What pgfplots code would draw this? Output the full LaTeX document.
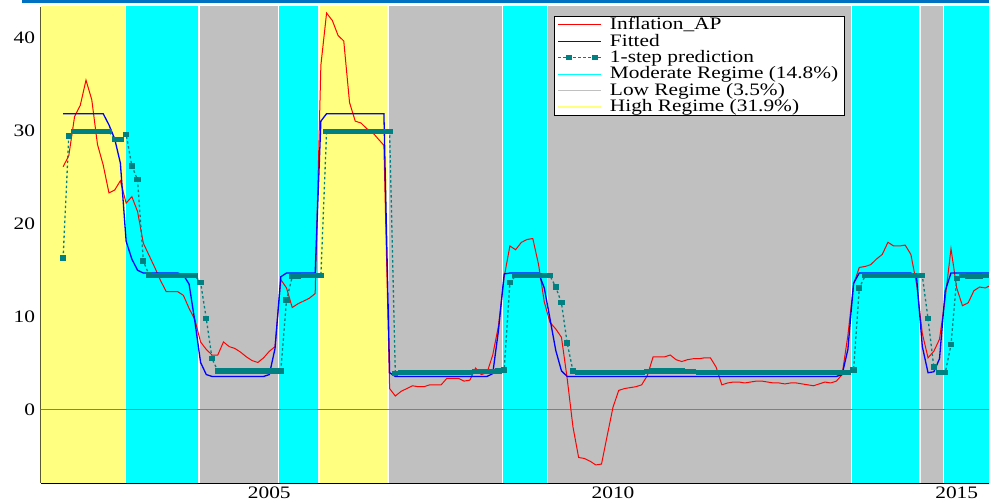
\documentclass[border=0pt]{standalone}
\usepackage{fontspec}
\setmainfont{Liberation Serif}[FakeStretch=1.22]
\usepackage{pgfplots}
\pgfplotsset{compat=1.18}
\usepackage{pgfplotstable}

\definecolor{cBand}{RGB}{0,255,255}
\definecolor{gBand}{RGB}{192,192,192}
\definecolor{yBand}{RGB}{255,255,128}
\definecolor{tealc}{RGB}{0,128,128}
\definecolor{zeroc}{RGB}{128,128,128}
\definecolor{barblue}{RGB}{0,112,192}

\pgfplotstableread{
t infl fit pred
2002.000 26.1 31.8 16.3
2002.083 27.3 31.8 29.4
2002.167 31.5 31.8 29.9
2002.250 32.7 31.8 29.9
2002.333 35.4 31.8 29.9
2002.417 33.3 31.8 29.9
2002.500 28.5 31.8 29.9
2002.583 26.3 31.8 29.9
2002.667 23.3 30.6 29.9
2002.750 23.6 29.1 29.0
2002.833 24.6 26.5 29.0
2002.917 22.2 18.1 29.6
2003.000 22.9 16.2 26.2
2003.083 21.3 15.0 24.7
2003.167 17.9 14.7 16.0
2003.250 16.6 14.7 14.5
2003.333 15.3 14.7 14.4
2003.417 13.9 14.7 14.4
2003.500 12.7 14.7 14.4
2003.583 12.7 14.7 14.4
2003.667 12.7 14.7 14.4
2003.750 12.3 14.5 14.4
2003.833 10.9 13.5 14.4
2003.917 9.7 9.5 14.4
2004.000 7.3 5.1 13.7
2004.083 6.5 3.8 9.8
2004.167 5.9 3.6 5.5
2004.250 5.9 3.6 4.2
2004.333 7.3 3.6 4.2
2004.417 6.8 3.6 4.2
2004.500 6.6 3.6 4.2
2004.583 6.2 3.6 4.2
2004.667 5.7 3.6 4.2
2004.750 5.3 3.6 4.2
2004.833 5.1 3.6 4.2
2004.917 5.6 3.6 4.2
2005.000 6.3 3.8 4.2
2005.083 6.8 6.6 4.2
2005.167 14.0 14.3 4.2
2005.250 13.1 14.7 11.8
2005.333 11.0 14.7 14.3
2005.417 11.4 14.7 14.3
2005.500 11.7 14.7 14.4
2005.583 12.0 14.7 14.4
2005.667 12.5 14.7 14.4
2005.750 37.0 31.0 14.4
2005.833 42.6 31.8 29.9
2005.917 41.8 31.8 29.9
2006.000 40.2 31.8 29.9
2006.083 39.6 31.8 29.9
2006.167 33.0 31.8 29.9
2006.250 31.0 31.8 29.9
2006.333 30.8 31.8 29.9
2006.417 30.2 31.8 29.9
2006.500 29.8 31.8 29.9
2006.583 29.1 31.8 29.9
2006.667 28.4 31.8 29.9
2006.750 2.3 4.0 29.9
2006.833 1.5 3.6 3.9
2006.917 2.0 3.6 4.0
2007.000 2.3 3.6 4.0
2007.083 2.6 3.6 4.0
2007.167 2.5 3.6 4.0
2007.250 2.5 3.6 4.0
2007.333 2.7 3.6 4.0
2007.417 2.7 3.6 4.0
2007.500 2.7 3.6 4.0
2007.583 3.4 3.6 4.0
2007.667 3.4 3.6 4.0
2007.750 3.4 3.6 4.0
2007.833 3.1 3.6 4.0
2007.917 3.2 3.6 4.0
2008.000 4.5 3.6 4.1
2008.083 3.8 3.6 4.1
2008.167 4.0 3.6 4.1
2008.250 5.9 3.9 4.1
2008.333 9.0 8.5 4.2
2008.417 14.3 14.6 4.3
2008.500 17.6 14.7 13.7
2008.583 17.2 14.7 14.4
2008.667 18.0 14.7 14.4
2008.750 18.3 14.7 14.4
2008.833 18.4 14.7 14.4
2008.917 15.6 14.7 14.4
2009.000 11.6 13.1 14.4
2009.083 9.4 9.8 14.4
2009.167 8.7 6.4 13.2
2009.250 7.8 4.2 11.5
2009.333 3.4 3.6 7.2
2009.417 -1.8 3.6 4.2
2009.500 -5.1 3.6 4.0
2009.583 -5.2 3.6 4.0
2009.667 -5.5 3.6 4.0
2009.750 -5.9 3.6 4.0
2009.833 -5.8 3.6 4.0
2009.917 -2.7 3.6 4.0
2010.000 0.3 3.6 4.0
2010.083 2.1 3.6 4.0
2010.167 2.3 3.6 4.0
2010.250 2.4 3.6 4.0
2010.333 2.5 3.6 4.0
2010.417 2.7 3.6 4.0
2010.500 3.7 3.6 4.1
2010.583 5.7 3.6 4.2
2010.667 5.7 3.6 4.2
2010.750 5.7 3.6 4.2
2010.833 5.9 3.6 4.2
2010.917 5.4 3.6 4.2
2011.000 5.2 3.6 4.2
2011.083 5.4 3.6 4.1
2011.167 5.5 3.6 4.1
2011.250 5.5 3.6 4.0
2011.333 5.6 3.6 4.0
2011.417 5.6 3.6 4.0
2011.500 4.6 3.6 4.0
2011.583 2.7 3.6 4.0
2011.667 2.9 3.6 4.0
2011.750 3.0 3.6 4.0
2011.833 3.0 3.6 4.0
2011.917 2.9 3.6 4.0
2012.000 3.0 3.6 4.0
2012.083 3.1 3.6 4.0
2012.167 3.1 3.6 4.0
2012.250 3.0 3.6 4.0
2012.333 2.9 3.6 4.0
2012.417 2.9 3.6 4.0
2012.500 2.8 3.6 4.0
2012.583 2.9 3.6 4.0
2012.667 2.9 3.6 4.0
2012.750 2.8 3.6 4.0
2012.833 2.7 3.6 4.0
2012.917 2.6 3.6 4.0
2013.000 2.8 3.6 4.0
2013.083 3.0 3.6 4.0
2013.167 2.9 3.6 4.0
2013.250 3.1 3.6 4.0
2013.333 3.8 3.8 4.0
2013.417 8.0 6.5 4.0
2013.500 13.5 13.6 4.3
2013.583 15.3 14.7 13.1
2013.667 15.4 14.7 14.4
2013.750 15.6 14.7 14.4
2013.833 16.2 14.7 14.4
2013.917 16.7 14.7 14.4
2014.000 18.0 14.7 14.4
2014.083 17.6 14.7 14.4
2014.167 17.6 14.7 14.4
2014.250 17.7 14.7 14.4
2014.333 16.7 14.7 14.4
2014.417 13.5 14.2 14.4
2014.500 8.2 6.8 14.4
2014.583 5.6 4.0 9.8
2014.667 6.3 4.1 4.6
2014.750 7.6 5.5 4.0
2014.833 12.0 12.8 4.0
2014.917 17.3 14.7 7.0
2015.000 13.1 14.7 14.1
2015.083 11.2 14.7 14.4
2015.167 11.5 14.7 14.3
2015.250 12.8 14.7 14.3
2015.333 13.2 14.7 14.3
2015.417 13.1 14.7 14.4
2015.500 13.4 14.7 14.4
}\datatable

\begin{document}
\begin{tikzpicture}
\begin{axis}[
  scale only axis, width=948.3pt, height=476pt,
  xmin=2001.674, xmax=2015.470, ymin=-7.835, ymax=43.25,
  axis x line*=bottom, axis y line*=left,
  axis line style={line width=1.2pt, black},
  tick align=inside,
  xtick={2005,2010,2015}, xticklabels={2005,2010,2015},
  minor xtick={2002,2003,2004,2006,2007,2008,2009,2011,2012,2013,2014},
  ytick={0,10,20,30,40},
  minor ytick={-6,-4,-2,2,4,6,8,12,14,16,18,22,24,26,28,32,34,36,38,42},
  major tick length=9pt, minor tick length=4.5pt,
  tick style={black, line width=0.8pt},
  ticklabel style={font=\fontsize{17.5}{19}\selectfont},
  /pgf/number format/assume math mode=true,
  yticklabel style={inner xsep=5.5pt},
  xticklabel style={inner ysep=4pt},
  legend cell align=left,
  legend style={at={(0.5413,0.982)}, anchor=north west, draw=black, line width=1.3pt,
    fill=white, font=\fontsize{17.5}{19}\selectfont, inner xsep=3pt, inner ysep=0.5pt,
    row sep=0pt, column sep=5pt,
    nodes={inner xsep=3pt, inner ysep=0pt, text height=13pt, text depth=3.4pt},
    cells={anchor=west}},
  legend image code/.code={\draw[mark indices={2,3},#1] plot coordinates {(0pt,0pt) (11pt,0pt) (37pt,0pt) (43pt,0pt)};},
]
% regime bands
\addplot[fill=yBand, draw=white, line width=1.5pt, forget plot] coordinates {(2001.0,-20) (2001.0,60) (2002.908,60) (2002.908,-20)} -- cycle;
\addplot[fill=cBand, draw=white, line width=1.5pt, forget plot] coordinates {(2002.908,-20) (2002.908,60) (2003.980,60) (2003.980,-20)} -- cycle;
\addplot[fill=gBand, draw=white, line width=1.5pt, forget plot] coordinates {(2003.980,-20) (2003.980,60) (2005.134,60) (2005.134,-20)} -- cycle;
\addplot[fill=cBand, draw=white, line width=1.5pt, forget plot] coordinates {(2005.134,-20) (2005.134,60) (2005.720,60) (2005.720,-20)} -- cycle;
\addplot[fill=yBand, draw=white, line width=1.5pt, forget plot] coordinates {(2005.720,-20) (2005.720,60) (2006.730,60) (2006.730,-20)} -- cycle;
\addplot[fill=gBand, draw=white, line width=1.5pt, forget plot] coordinates {(2006.730,-20) (2006.730,60) (2008.393,60) (2008.393,-20)} -- cycle;
\addplot[fill=cBand, draw=white, line width=1.5pt, forget plot] coordinates {(2008.393,-20) (2008.393,60) (2009.047,60) (2009.047,-20)} -- cycle;
\addplot[fill=gBand, draw=white, line width=1.5pt, forget plot] coordinates {(2009.047,-20) (2009.047,60) (2013.470,60) (2013.470,-20)} -- cycle;
\addplot[fill=cBand, draw=white, line width=1.5pt, forget plot] coordinates {(2013.470,-20) (2013.470,60) (2014.466,60) (2014.466,-20)} -- cycle;
\addplot[fill=gBand, draw=white, line width=1.5pt, forget plot] coordinates {(2014.466,-20) (2014.466,60) (2014.811,60) (2014.811,-20)} -- cycle;
\addplot[fill=cBand, draw=white, line width=1.5pt, forget plot] coordinates {(2014.811,-20) (2014.811,60) (2016.5,60) (2016.5,-20)} -- cycle;
% zero line
\addplot[zeroc, line width=1pt, forget plot] coordinates {(2001,0) (2016,0)};
% series
\addplot[red, line width=1pt, mark=none] table[x=t, y=infl] {\datatable};
\addlegendentry{Inflation\_AP}
\addplot[blue, line width=1.3pt, mark=none] table[x=t, y=fit] {\datatable};
\addlegendentry{Fitted}
\addplot[tealc, line width=1.3pt, dash pattern=on 2.5pt off 2.5pt, mark=square*, mark size=2pt,
  mark options={solid, xscale=1.25}] table[x=t, y=pred] {\datatable};
\addlegendentry{1-step prediction}
\addlegendimage{cBand, line width=1.2pt, mark=none}
\addlegendentry{Moderate Regime (14.8\%)}
\addlegendimage{gBand, line width=1.2pt, mark=none}
\addlegendentry{Low Regime (3.5\%)}
\addlegendimage{yBand, line width=1.2pt, mark=none}
\addlegendentry{High Regime (31.9\%)}
\end{axis}
\fill[barblue] ([xshift=-19pt, yshift=3.7pt]current axis.north west) rectangle ([yshift=7pt]current axis.north east);
\pgfresetboundingbox
\path[use as bounding box] ([xshift=-40.7pt, yshift=-18pt]current axis.south west) rectangle ([xshift=5pt, yshift=7pt]current axis.north east);
\end{tikzpicture}
\end{document}
